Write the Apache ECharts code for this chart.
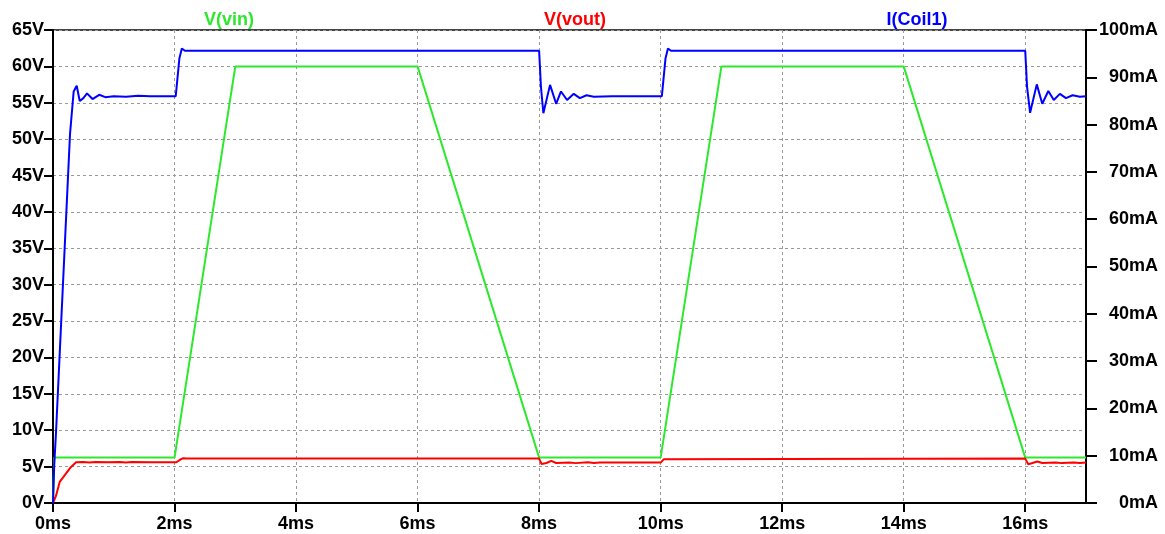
<!DOCTYPE html>
<html><head><meta charset="utf-8">
<script src="https://cdn.jsdelivr.net/npm/echarts@6/dist/echarts.min.js"></script>
<style>html,body{margin:0;padding:0;background:#fff}#c{width:1165px;height:534px}</style>
</head><body><div id="c"></div>
<script>
// Time in ms
const vinTime = [0, 0.02, 2.0, 3.0, 6.0, 8.0, 10.0, 11.0, 14.0, 16.0, 17.0];
const vinVals = [0, 6.24, 6.24, 60, 60, 6.24, 6.24, 60, 60, 6.24, 6.24];

const voutTime = [0, 0.05, 0.11, 0.2, 0.28, 0.38, 0.5, 0.6, 0.7, 0.9, 1.1, 1.2, 1.3, 1.6, 2.03, 2.1, 2.14, 2.2, 8.0, 8.04, 8.12, 8.2, 8.28, 8.5, 8.6, 8.8, 8.9, 9.0, 10.0, 10.05, 10.08, 16.0, 16.05, 16.12, 16.2, 16.28, 16.5, 16.6, 16.8, 16.9, 17.0];
const voutVals = [0, 1.0, 2.9, 3.9, 4.8, 5.6, 5.65, 5.55, 5.65, 5.6, 5.65, 5.55, 5.62, 5.6, 5.6, 6.0, 6.15, 6.1, 6.1, 5.35, 5.5, 5.8, 5.5, 5.55, 5.48, 5.6, 5.5, 5.55, 5.55, 6.0, 6.1, 6.1, 5.33, 5.5, 5.7, 5.5, 5.55, 5.48, 5.58, 5.5, 5.55];

const coilTime = [0, 0.02, 0.05, 0.28, 0.34, 0.39, 0.44, 0.5, 0.56, 0.65, 0.76, 0.86, 1.0, 1.2, 1.4, 1.6, 2.02, 2.08, 2.12, 2.17, 8.0, 8.03, 8.07, 8.18, 8.28, 8.36, 8.46, 8.57, 8.67, 8.78, 8.9, 9.2, 10.02, 10.08, 10.12, 10.17, 16.0, 16.03, 16.08, 16.19, 16.28, 16.38, 16.47, 16.57, 16.67, 16.78, 16.9, 17.0];
const coilVals = [0, 8, 15, 78, 87, 88.2, 85.0, 85.6, 86.6, 85.4, 86.3, 85.8, 86.0, 85.9, 86.1, 86.0, 86.0, 94, 96.1, 95.6, 95.6, 88, 82.4, 88.4, 84.4, 87.0, 85.2, 86.5, 85.6, 86.2, 85.9, 86.0, 86.0, 94, 96.1, 95.6, 95.6, 88, 82.5, 88.5, 84.4, 87.1, 85.2, 86.5, 85.6, 86.2, 85.9, 86.0];

const seriesNames = ['V(vin)', 'V(vout)', 'I(Coil1)'];
const seriesColors = ['#2ee82e', '#ff0000', '#0000ff'];

const zip = (t, v) => t.map((x, i) => [x, v[i]]);
const font = {fontFamily: 'Liberation Sans, Arial, sans-serif', fontWeight: 'bold', fontSize: 18, color: '#000'};
const dash = {color: '#999', type: [3, 3], width: 1};
const titleStyle = c => Object.assign({}, font, {color: c, fontSize: 18});

const chart = echarts.init(document.getElementById('c'), null, {renderer: 'canvas'});
chart.setOption({
  animation: false,
  backgroundColor: '#fff',
  title: [
    {text: seriesNames[0], left: 224, top: 6, textAlign: 'center', textStyle: titleStyle(seriesColors[0])},
    {text: seriesNames[1], left: 570, top: 6, textAlign: 'center', textStyle: titleStyle(seriesColors[1])},
    {text: seriesNames[2], left: 912, top: 6, textAlign: 'center', textStyle: titleStyle(seriesColors[2])}
  ],
  grid: {left: 53, right: 79, top: 30, bottom: 31, show: true, borderColor: '#444', borderWidth: 2, backgroundColor: 'transparent'},
  xAxis: {
    type: 'value', min: 0, max: 17, interval: 2,
    axisLine: {lineStyle: {color: '#000', width: 2}},
    axisTick: {length: 9, lineStyle: {color: '#000', width: 2}},
    axisLabel: Object.assign({}, font, {margin: 12, formatter: v => v + 'ms', showMaxLabel: false}),
    splitLine: {show: true, lineStyle: dash}
  },
  yAxis: [
    {
      type: 'value', min: 0, max: 65, interval: 5, position: 'left',
      axisLine: {show: true, lineStyle: {color: '#000', width: 2}},
      axisTick: {show: true, length: 9, lineStyle: {color: '#000', width: 2}},
      axisLabel: Object.assign({}, font, {margin: 9, formatter: v => v + 'V'}),
      splitLine: {show: true, lineStyle: dash}
    },
    {
      type: 'value', min: 0, max: 100, interval: 10, position: 'right',
      axisLine: {show: true, lineStyle: {color: '#000', width: 2}},
      axisTick: {show: true, length: 11, lineStyle: {color: '#000', width: 2}},
      axisLabel: Object.assign({}, font, {margin: 72, align: 'right', formatter: v => v + 'mA'}),
      splitLine: {show: false}
    }
  ],
  series: [
    {name: seriesNames[0], type: 'line', yAxisIndex: 0, data: zip(vinTime, vinVals), showSymbol: false, lineStyle: {color: seriesColors[0], width: 2}, itemStyle: {color: seriesColors[0]}},
    {name: seriesNames[1], type: 'line', yAxisIndex: 0, data: zip(voutTime, voutVals), showSymbol: false, lineStyle: {color: seriesColors[1], width: 2}, itemStyle: {color: seriesColors[1]}},
    {name: seriesNames[2], type: 'line', yAxisIndex: 1, data: zip(coilTime, coilVals), showSymbol: false, lineStyle: {color: seriesColors[2], width: 2}, itemStyle: {color: seriesColors[2]}}
  ]
});
</script></body></html>
